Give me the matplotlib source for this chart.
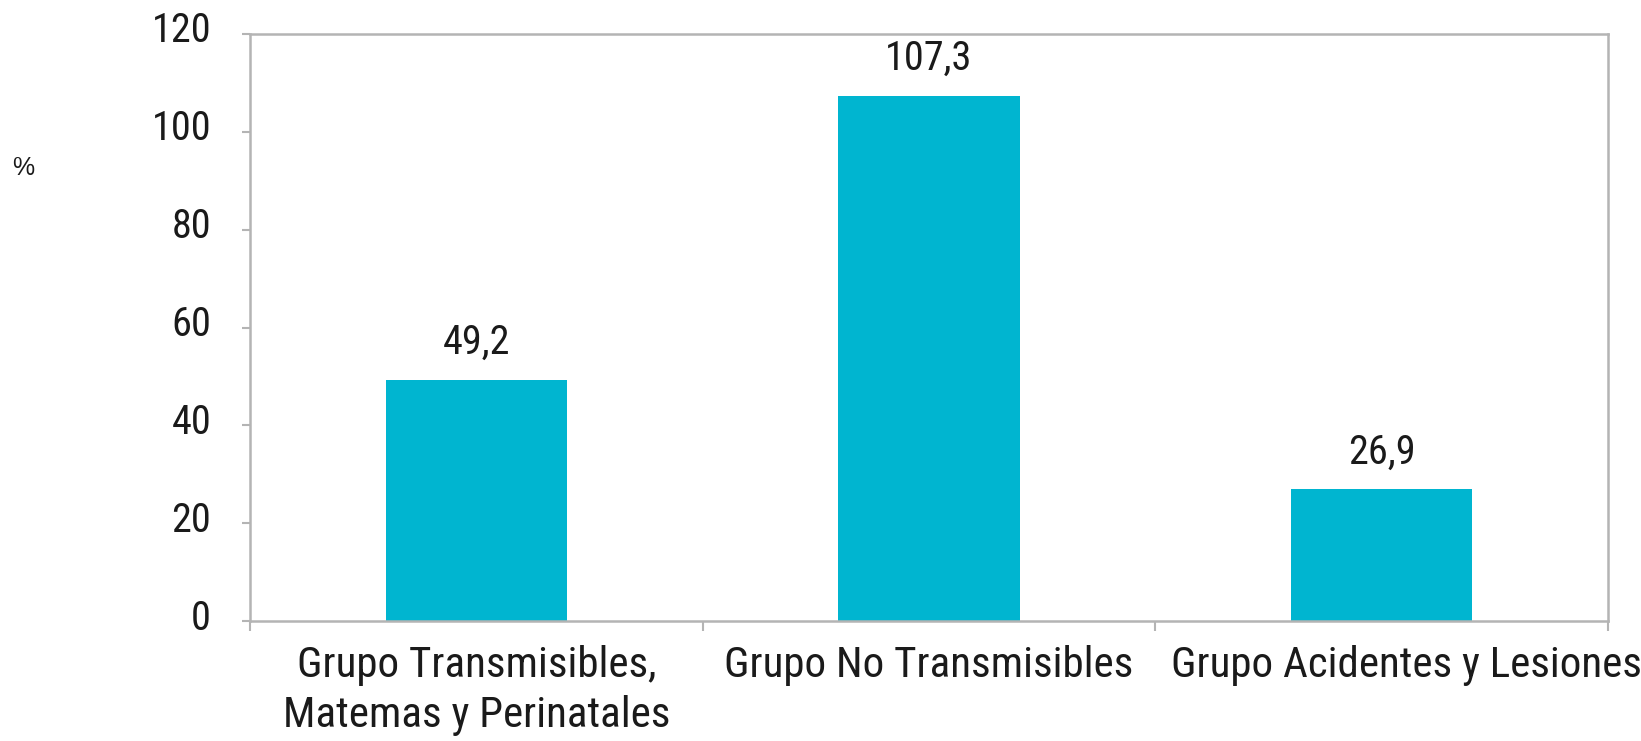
import numpy as np
import matplotlib
matplotlib.use('Agg')
import matplotlib.pyplot as plt
from matplotlib.transforms import ScaledTranslation

categorias = ['Grupo Transmisibles,\nMatemas y Perinatales',
              'Grupo No Transmisibles',
              'Grupo Acidentes y Lesiones']
valores = [49.2, 107.3, 26.9]
etiquetas = ['49,2', '107,3', '26,9']
yticks = [0, 20, 40, 60, 80, 100, 120]

color_barra = '#00b5d0'
gris = '#b4b4b4'
fuente = ['Roboto Condensed', 'Archivo Narrow', 'Liberation Sans']

fig = plt.figure(figsize=(16.41, 7.41), dpi=100)
ax = fig.add_axes([250/1641, 1-621/741, (1608-250)/1641, (621-34)/741])

x = np.arange(len(categorias))
ax.bar(x, valores, width=0.40, color=color_barra, zorder=2)

for xi, v, t in zip(x, valores, etiquetas):
    ax.annotate(t, (xi, v), xytext=(0, 13), textcoords='offset points',
                ha='center', va='bottom', fontsize=29, family=fuente, color='#1a1a1a')

ax.set_xlim(-0.5, len(categorias) - 0.5)
ax.set_ylim(0, 120)
ax.set_yticks(yticks)
ax.set_yticklabels([str(v) for v in yticks], family=fuente, fontsize=29, color='#1a1a1a')
ax.set_xticks(x)
ax.set_xticklabels(categorias, family=fuente, fontsize=31, color='#1a1a1a',
                   linespacing=1.3, multialignment='center')
ax.set_xticks(np.arange(len(categorias) + 1) - 0.5, minor=True)

ax.tick_params(axis='x', which='major', length=0, pad=17)
ax.tick_params(axis='x', which='minor', length=7, width=1.5, color=gris, direction='out')
ax.tick_params(axis='y', length=6, width=1.5, color=gris, direction='out', pad=22)

for s in ax.spines.values():
    s.set_color(gris)
    s.set_linewidth(1.8)

# etiquetas del eje y un poco por encima de la marca
for lab in ax.get_yticklabels():
    lab.set_transform(lab.get_transform() + ScaledTranslation(0, 0.07, fig.dpi_scale_trans))

# la ultima etiqueta va algo corrida a la derecha, como en el original
ult = ax.get_xticklabels()[-1]
ult.set_transform(ult.get_transform() + ScaledTranslation(0.25, 0, fig.dpi_scale_trans))

fig.text(23/1641, 1-168/741, '%', ha='center', va='center', fontsize=18,
         family=['Liberation Sans', 'DejaVu Sans'], color='#1a1a1a')

fig.savefig('out.png', dpi=100, facecolor='white')
